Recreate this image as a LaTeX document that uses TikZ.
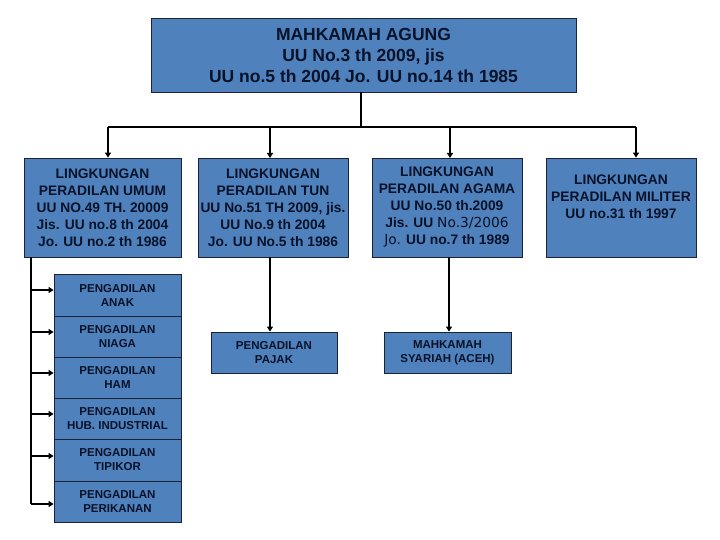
\documentclass[tikz,border=0pt]{standalone}
\usepackage{fontspec}
\setmainfont{Liberation Sans}
\newfontfamily\altfont{DejaVu Sans}
\usetikzlibrary{arrows.meta}
\definecolor{boxfill}{HTML}{4F81BD}
\definecolor{boxtext}{HTML}{081228}
\definecolor{boxline}{HTML}{1A2233}
\tikzset{
  box/.style={draw=boxline, line width=0.8pt, fill=boxfill, text=boxtext, font=\bfseries, align=center, inner sep=0pt},
  topbox/.style={box, font=\fontsize{17.5}{21}\selectfont\bfseries},
  lbox/.style={box, minimum height=99pt, font=\fontsize{13.8}{17}\selectfont\bfseries},
  subbox/.style={box, minimum width=127pt, font=\fontsize{11.5}{14}\selectfont\bfseries},
  wire/.style={line width=1.2pt, black},
  arr/.style={line width=2pt, black, -{Triangle[length=5pt,width=6pt]}},
}
\begin{document}
\begin{tikzpicture}[x=1pt,y=-1pt]
\useasboundingbox (0,0) rectangle (720,540);
\fill[white] (0,0) rectangle (720,540);

\node[topbox, minimum width=425pt, minimum height=74pt] (ma) at (363.5,55)
  {MAHKAMAH AGUNG\\UU No.3 th 2009, jis\\UU no.5 th 2004 Jo. UU no.14 th 1985};

\node[lbox, minimum width=157pt] (l1) at (102.5,207.5)
  {LINGKUNGAN\\PERADILAN UMUM\\UU NO.49 TH. 20009\\Jis. UU no.8 th 2004\\Jo. UU no.2 th 1986};
\node[lbox, minimum width=150pt] (l2) at (273,207.5)
  {LINGKUNGAN\\PERADILAN TUN\\UU No.51 TH 2009, jis.\\UU No.9 th 2004\\Jo. UU No.5 th 1986};
\node[lbox, minimum width=150pt] (l3) at (447,207.5)
  {LINGKUNGAN\\PERADILAN AGAMA\\UU No.50 th.2009\\Jis. UU {\altfont\mdseries No.3/2006}\\{\altfont\mdseries Jo.} UU no.7 th 1989};
\node[lbox, minimum width=150pt] (l4) at (621,207.5)
  {LINGKUNGAN\\PERADILAN MILITER\\UU no.31 th 1997\\\strut};

\node[subbox, minimum height=42pt]   (s1) at (117.5,295)   {PENGADILAN\\ANAK};
\node[subbox, minimum height=41pt]   (s2) at (117.5,336.5) {PENGADILAN\\NIAGA};
\node[subbox, minimum height=41pt]   (s3) at (117.5,377.5) {PENGADILAN\\HAM};
\node[subbox, minimum height=41pt]   (s4) at (117.5,418.5) {PENGADILAN\\HUB. INDUSTRIAL};
\node[subbox, minimum height=42pt]   (s5) at (117.5,460)   {PENGADILAN\\TIPIKOR};
\node[subbox, minimum height=41pt]   (s6) at (117.5,501.5) {PENGADILAN\\PERIKANAN};

\node[subbox, minimum width=126pt, minimum height=41pt] (pj) at (274,352.5) {PENGADILAN\\PAJAK};
\node[subbox, minimum height=41pt] (sy) at (447.5,352.5) {MAHKAMAH\\SYARIAH (ACEH)};

% top distribution
\coordinate (j) at (361,127);
\coordinate (bl) at (108,127);
\coordinate (br) at (636,127);
\draw[wire] (ma.south -| j) -- (j);
\draw[wire] (bl) -- (br);
\draw[arr] (bl) -- (bl |- l1.north);
\draw[arr] (270,127) -- (270,158);
\draw[arr] (450,127) -- (450,158);
\draw[arr] (br) -- (br |- l4.north);

% left bus
\coordinate (lb) at (31,257);
\coordinate (le) at (31,504);
\draw[wire] (lb) -- (le);
\draw[arr] (31,290) -- (s1.west |- 0,290);
\draw[arr] (31,332) -- (s2.west |- 0,332);
\draw[arr] (31,373) -- (s3.west |- 0,373);
\draw[arr] (31,414) -- (s4.west |- 0,414);
\draw[arr] (31,456) -- (s5.west |- 0,456);
\draw[arr] (le) -- (s6.west |- le);

% lower arrows
\draw[arr, line width=2.4pt] (l2.south -| 270,0) -- (pj.north -| 270,0);
\draw[arr, line width=2.4pt] (l3.south -| 449,0) -- (sy.north -| 449,0);
\end{tikzpicture}
\end{document}
